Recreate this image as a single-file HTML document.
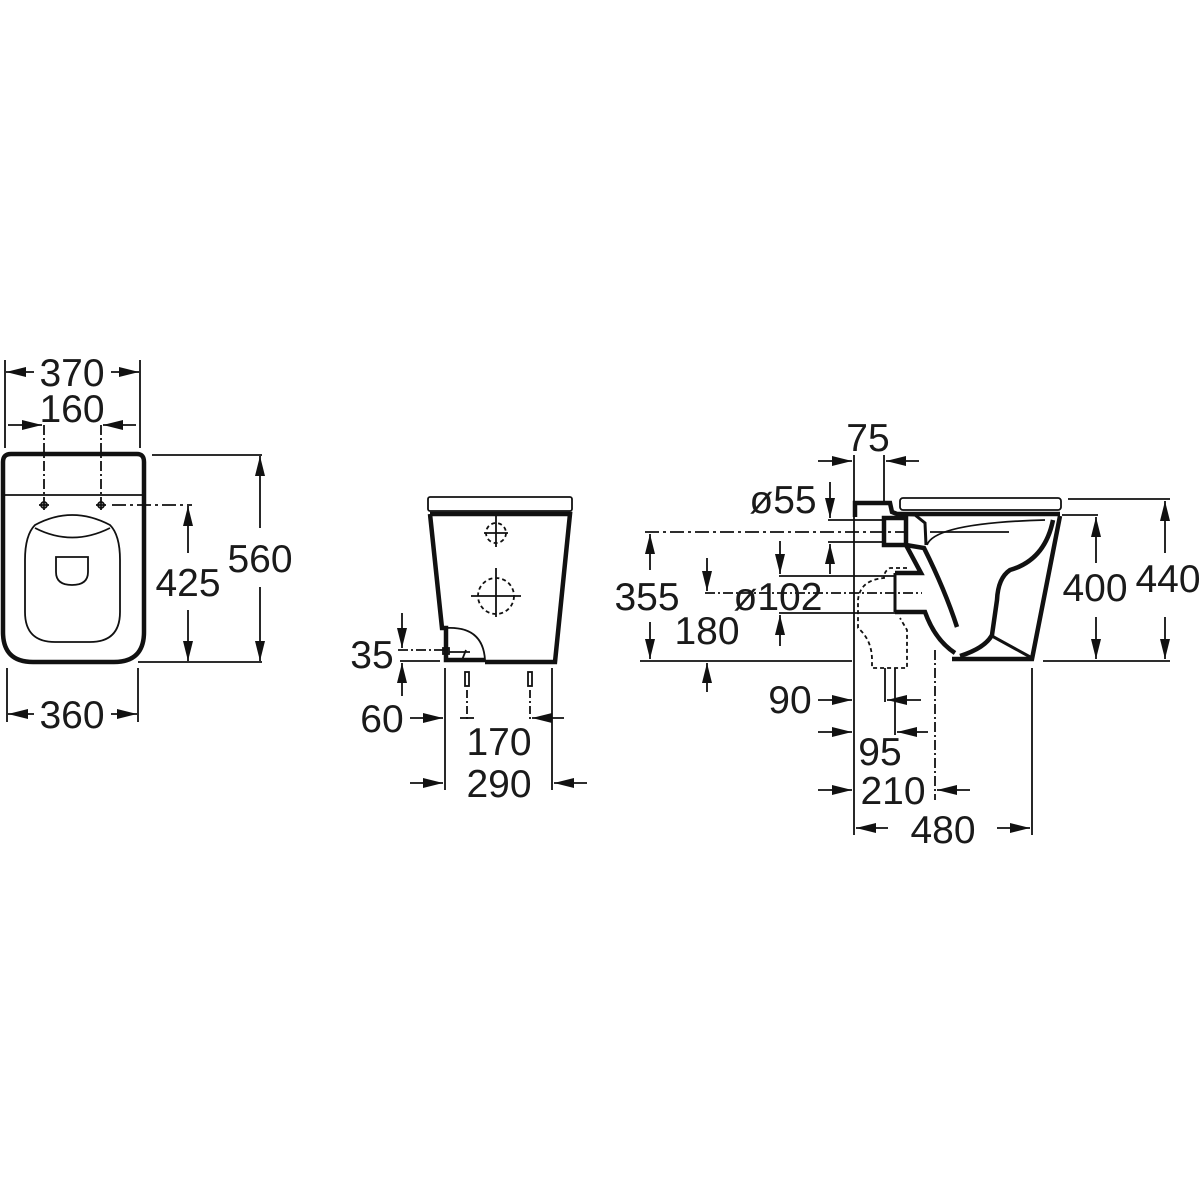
<!DOCTYPE html>
<html><head><meta charset="utf-8"><style>
html,body{margin:0;padding:0;background:#fff;}
svg{display:block}
text{font-family:"Liberation Sans",sans-serif;font-size:39px;fill:#1a1a1a;}
</style></head><body>
<svg width="1200" height="1200" viewBox="0 0 1200 1200" xmlns="http://www.w3.org/2000/svg">
<defs>
<marker id="a" viewBox="0 0 20 10" refX="20" refY="5" markerWidth="20" markerHeight="10" markerUnits="userSpaceOnUse" orient="auto"><path d="M0,0L20,5L0,10z" fill="#111"/></marker>
</defs>
<g stroke="#111" fill="none" stroke-width="1.8">
<!-- LEFT VIEW -->
<path d="M3,462 Q3,454 11,454 L137,454 Q144,454 144,462 L144,632 Q144,662 114,662 L33,662 Q3,662 3,632 Z" stroke-width="4.5"/>
<line x1="4" y1="495" x2="143" y2="495"/>
<path d="M35,525 Q72,505 110,525 Q120,535 120,560 L120,612 Q120,642 90,642 L55,642 Q25,642 25,612 L25,560 Q25,535 35,525 Z"/>
<path d="M35,528 Q72,547 110,528" />
<path d="M56,557 L88,557 L88,572 Q88,585 72,585 Q56,585 56,572 Z"/>
<line x1="44" y1="425" x2="44" y2="500" stroke-dasharray="10,3,2,3"/>
<line x1="101" y1="425" x2="101" y2="500" stroke-dasharray="10,3,2,3"/>
<g><line x1="39" y1="505" x2="49" y2="505"/><line x1="44" y1="500" x2="44" y2="510"/><line x1="96" y1="505" x2="106" y2="505"/><line x1="101" y1="500" x2="101" y2="510"/><circle cx="44" cy="505" r="3"/><circle cx="101" cy="505" r="3"/></g>
<line x1="112" y1="505" x2="192" y2="505" stroke-dasharray="14,4,3,4"/>
<line x1="5" y1="360" x2="5" y2="448"/><line x1="140" y1="360" x2="140" y2="448"/>
<line x1="34" y1="372" x2="6" y2="372" marker-end="url(#a)"/><line x1="111" y1="372" x2="139" y2="372" marker-end="url(#a)"/>
<line x1="8" y1="425" x2="42" y2="425" marker-end="url(#a)"/><line x1="136" y1="425" x2="103" y2="425" marker-end="url(#a)"/>
<line x1="152" y1="455" x2="262" y2="455"/><line x1="138" y1="662" x2="262" y2="662"/>
<line x1="260" y1="528" x2="260" y2="456" marker-end="url(#a)"/><line x1="260" y1="587" x2="260" y2="661" marker-end="url(#a)"/>
<line x1="188" y1="553" x2="188" y2="506" marker-end="url(#a)"/><line x1="188" y1="610" x2="188" y2="661" marker-end="url(#a)"/>
<line x1="7" y1="668" x2="7" y2="722"/><line x1="138" y1="668" x2="138" y2="722"/>
<line x1="34" y1="714" x2="8" y2="714" marker-end="url(#a)"/><line x1="111" y1="714" x2="137" y2="714" marker-end="url(#a)"/>

<!-- MIDDLE VIEW -->
<rect x="428" y="497" width="144" height="14" rx="2"/>
<path d="M430,514 L570,514 L555,662 L485,662" stroke-width="4.5"/>
<path d="M430,514 L442,628 L446,628 L446,660 L485,660" stroke-width="4.5"/>
<path d="M446,628 Q483,626 485,660"/>
<rect x="443" y="648" width="6" height="6"/>
<path d="M449,652 L470,652 M466,650 L462,660 L475,660" />
<circle cx="496" cy="533" r="10" stroke-dasharray="4,3"/>
<line x1="496" y1="515" x2="496" y2="547"/><line x1="484" y1="533" x2="508" y2="533"/>
<circle cx="496" cy="596" r="18" stroke-dasharray="4,3"/>
<line x1="496" y1="568" x2="496" y2="617"/><line x1="471" y1="596" x2="521" y2="596"/>
<line x1="398" y1="650" x2="445" y2="650" stroke-dasharray="10,3,2,3"/>
<line x1="400" y1="661" x2="440" y2="661"/>
<line x1="402" y1="613" x2="402" y2="648" marker-end="url(#a)"/>
<line x1="402" y1="696" x2="402" y2="663" marker-end="url(#a)"/>
<line x1="445" y1="668" x2="445" y2="790"/><line x1="552" y1="668" x2="552" y2="790"/>
<line x1="467" y1="690" x2="467" y2="720" stroke-dasharray="8,3,2,3"/><line x1="530" y1="690" x2="530" y2="720" stroke-dasharray="8,3,2,3"/>
<rect x="465" y="672" width="4" height="14"/><rect x="528" y="672" width="4" height="14"/>
<line x1="460" y1="718" x2="474" y2="718"/>
<line x1="410" y1="718" x2="443" y2="718" marker-end="url(#a)"/>
<line x1="564" y1="718" x2="532" y2="718" marker-end="url(#a)"/>
<line x1="410" y1="783" x2="443" y2="783" marker-end="url(#a)"/>
<line x1="587" y1="783" x2="554" y2="783" marker-end="url(#a)"/>

<!-- RIGHT VIEW -->
<line x1="854" y1="455" x2="854" y2="835"/>
<line x1="884" y1="455" x2="884" y2="502"/>
<line x1="818" y1="461" x2="852" y2="461" marker-end="url(#a)"/>
<line x1="919" y1="461" x2="886" y2="461" marker-end="url(#a)"/>
<rect x="900" y="498" width="161" height="12" rx="3"/>
<path d="M855,517 L855,503 L890,503 L892,512 L897,514 L1060,514" stroke-width="4.5"/>
<path d="M884,518 L906,518 L906,545 L884,545 Z" stroke-width="4.5"/>
<path d="M897,514 L915,515 L925,523 L926,545" stroke-width="3"/>
<path d="M927,545 Q935,523 1045,520" />
<path d="M930,532 L1009,532"/>
<path d="M1060,516 L1032,659 L952,659" stroke-width="4.5"/>
<path d="M906,545 L921,573 L895,573 M895,612 L925,612 Q935,640 955,653" stroke-width="4.5"/>
<path d="M906,545 L924,548 Q945,590 957,627" stroke-width="4.5"/>
<path d="M1053,520 Q1045,560 1010,570 Q998,578 997,600 L992,635 Q985,648 960,656" stroke-width="4.5"/>
<path d="M992,636 L1032,658" stroke-width="3"/>
<path d="M895,573 L895,612" stroke-width="3"/>
<path d="M907,568 L890,568 Q884,571 884,578 Q860,580 858,600 L858,628 Q872,640 872,660 L872,668 L907,668 L907,630 L900,618" stroke-dasharray="4,3"/>
<line x1="645" y1="532" x2="908" y2="532" stroke-dasharray="14,4,3,4"/>
<line x1="705" y1="593" x2="922" y2="593" stroke-dasharray="10,3,2,3"/>
<line x1="828" y1="520" x2="884" y2="520"/><line x1="828" y1="542" x2="884" y2="542"/>
<line x1="779" y1="576" x2="895" y2="576"/><line x1="779" y1="613" x2="895" y2="613"/>
<line x1="830" y1="482" x2="830" y2="518" marker-end="url(#a)"/>
<line x1="830" y1="574" x2="830" y2="544" marker-end="url(#a)"/>
<line x1="780" y1="541" x2="780" y2="574" marker-end="url(#a)"/>
<line x1="780" y1="646" x2="780" y2="615" marker-end="url(#a)"/>
<line x1="707" y1="558" x2="707" y2="591" marker-end="url(#a)"/>
<line x1="707" y1="692" x2="707" y2="663" marker-end="url(#a)"/>
<line x1="650" y1="570" x2="650" y2="534" marker-end="url(#a)"/>
<line x1="650" y1="622" x2="650" y2="659" marker-end="url(#a)"/>
<line x1="640" y1="661" x2="852" y2="661"/>
<line x1="1043" y1="661" x2="1170" y2="661"/>
<line x1="1068" y1="499" x2="1170" y2="499"/>
<line x1="1062" y1="515" x2="1098" y2="515"/>
<line x1="1165" y1="553" x2="1165" y2="501" marker-end="url(#a)"/>
<line x1="1165" y1="617" x2="1165" y2="659" marker-end="url(#a)"/>
<line x1="1096" y1="563" x2="1096" y2="517" marker-end="url(#a)"/>
<line x1="1096" y1="617" x2="1096" y2="659" marker-end="url(#a)"/>
<line x1="885" y1="668" x2="885" y2="702"/>
<line x1="895" y1="668" x2="895" y2="735"/>
<line x1="935" y1="650" x2="935" y2="800" stroke-dasharray="10,3,2,3"/>
<line x1="1032" y1="668" x2="1032" y2="835"/>
<line x1="818" y1="700" x2="852" y2="700" marker-end="url(#a)"/>
<line x1="921" y1="700" x2="887" y2="700" marker-end="url(#a)"/>
<line x1="818" y1="732" x2="852" y2="732" marker-end="url(#a)"/>
<line x1="928" y1="732" x2="897" y2="732" marker-end="url(#a)"/>
<line x1="818" y1="790" x2="852" y2="790" marker-end="url(#a)"/>
<line x1="970" y1="790" x2="937" y2="790" marker-end="url(#a)"/>
<line x1="888" y1="828" x2="856" y2="828" marker-end="url(#a)"/>
<line x1="997" y1="828" x2="1030" y2="828" marker-end="url(#a)"/>
</g>
<g>
<text x="72" y="386" text-anchor="middle">370</text>
<text x="72" y="422" text-anchor="middle">160</text>
<text x="260" y="572" text-anchor="middle">560</text>
<text x="188" y="596" text-anchor="middle">425</text>
<text x="72" y="728" text-anchor="middle">360</text>
<text x="372" y="668" text-anchor="middle">35</text>
<text x="382" y="732" text-anchor="middle">60</text>
<text x="499" y="755" text-anchor="middle">170</text>
<text x="499" y="797" text-anchor="middle">290</text>
<text x="868" y="451" text-anchor="middle">75</text>
<text x="783" y="513" text-anchor="middle">ø55</text>
<text x="647" y="610" text-anchor="middle">355</text>
<text x="778" y="610" text-anchor="middle">ø102</text>
<text x="707" y="644" text-anchor="middle">180</text>
<text x="1095" y="601" text-anchor="middle">400</text>
<text x="1168" y="592" text-anchor="middle">440</text>
<text x="790" y="713" text-anchor="middle">90</text>
<text x="880" y="765" text-anchor="middle">95</text>
<text x="893" y="804" text-anchor="middle">210</text>
<text x="943" y="843" text-anchor="middle">480</text>
</g>
</svg>
</body></html>
